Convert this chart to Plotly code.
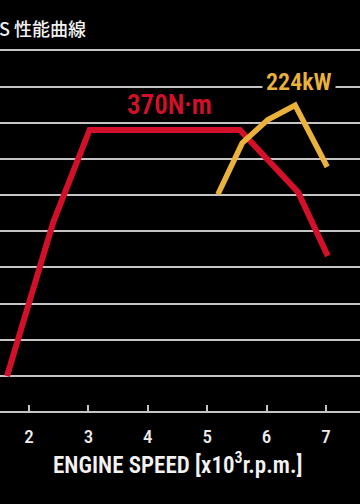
import plotly.graph_objects as go

# Torque curve (engine speed x1000 rpm, N·m)
torque_rpm = [1.63, 2.41, 3.02, 5.55, 6.53, 7.03]
torque_nm = [30, 243, 370, 370, 284, 196]

# Power curve (engine speed x1000 rpm, kW)
power_rpm = [5.18, 5.59, 6.02, 6.48, 7.02]
power_kw = [101, 172, 204, 224, 139]

x_ticks = [2, 3, 4, 5, 6, 7]
grid_vals = [30, 80, 130, 180, 230, 280, 330, 380, 430, 480]

RED = "#d2102a"
YELLOW = "#ebb23b"
GRID = "#c4c4c4"
COND = "Roboto Condensed, Roboto, sans-serif"

fig = go.Figure()
fig.add_trace(go.Scatter(x=torque_rpm, y=torque_nm, mode="lines",
                         line=dict(color=RED, width=6), yaxis="y", hoverinfo="skip"))
fig.add_trace(go.Scatter(x=power_rpm, y=power_kw, mode="lines",
                         line=dict(color=YELLOW, width=5.5), yaxis="y2", hoverinfo="skip"))

fig.update_layout(
    width=360, height=504,
    margin=dict(l=0, r=0, t=0, b=0),
    paper_bgcolor="black", plot_bgcolor="black",
    showlegend=False,
    xaxis=dict(range=[1.512, 7.572], domain=[0, 1], anchor="free", position=0.182,
               showgrid=False, zeroline=False, showline=True, linecolor=GRID, linewidth=2,
               ticks="inside", ticklen=6, tickwidth=2, tickcolor=GRID,
               tickvals=x_ticks, ticktext=[str(v) for v in x_ticks],
               tickfont=dict(family=COND, size=19, color="#ececec", weight=500),
               ticklabelstandoff=7, fixedrange=True),
    yaxis=dict(range=[-146.7, 549.5], domain=[0, 1], tickvals=grid_vals,
               showticklabels=False, showgrid=True, gridcolor=GRID, gridwidth=2,
               zeroline=False, showline=False, ticks="", fixedrange=True),
    yaxis2=dict(range=[-326.7, 369.5], overlaying="y", visible=False, fixedrange=True),
)

fig.add_annotation(x=4.37, y=404, xref="x", yref="y", text="370N·m",
                   xanchor="center", yanchor="middle", showarrow=False,
                   font=dict(family=COND, size=27, color=RED, weight=600))
fig.add_annotation(x=6.55, y=256, xref="x", yref="y2", text="224kW",
                   xanchor="center", yanchor="middle", showarrow=False,
                   bgcolor="black", borderpad=3,
                   font=dict(family=COND, size=24, color=YELLOW, weight=600))
fig.add_annotation(x=0.492, y=0.081, xref="paper", yref="paper",
                   xanchor="center", yanchor="middle",
                   text="ENGINE SPEED [x10<sup>3</sup>r.p.m.]", showarrow=False,
                   font=dict(family=COND, size=23, color="#f2f2f2", weight=600))
fig.add_annotation(x=-0.008, y=0.944, xref="paper", yref="paper",
                   xanchor="left", yanchor="middle",
                   text="S 性能曲線", showarrow=False,
                   font=dict(family="Noto Sans CJK JP, Noto Sans, sans-serif", size=18,
                             color="#f2f2f2", weight=500))

fig.write_html("out.html")
